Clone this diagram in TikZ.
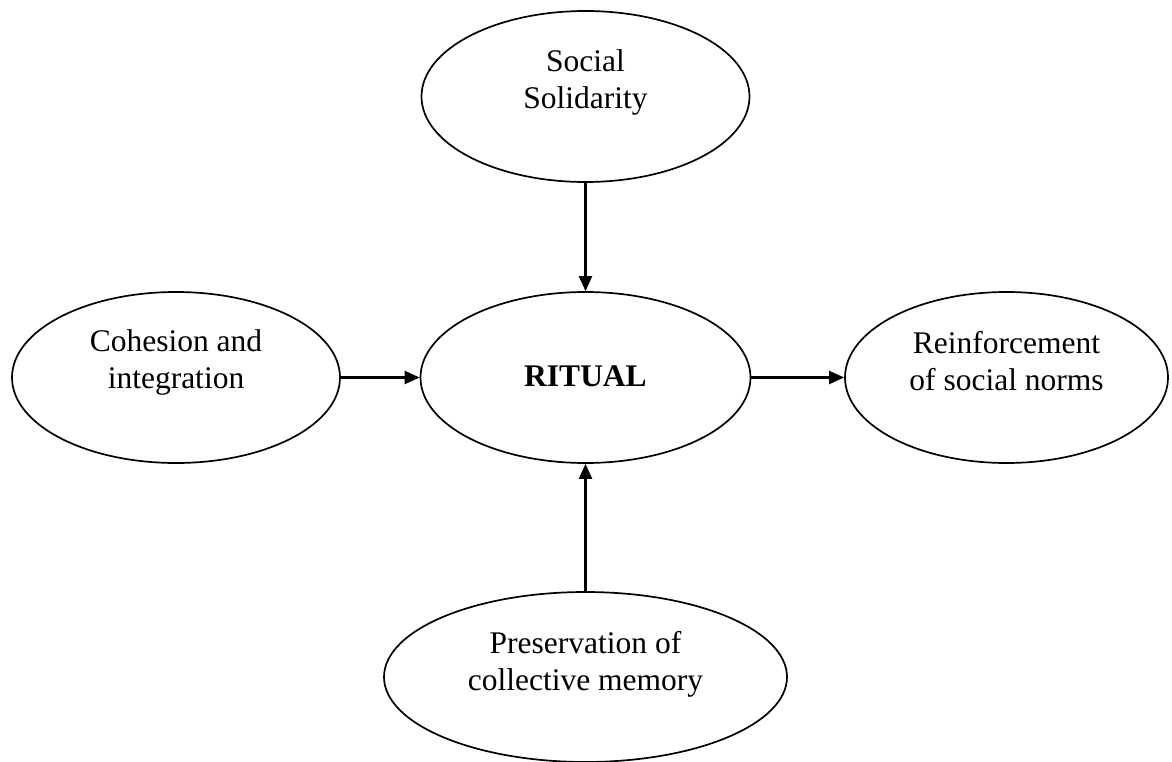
\documentclass[tikz,border=0pt]{standalone}
\usepackage{fontspec}
\setmainfont{Liberation Serif}
\usetikzlibrary{shapes.geometric,arrows.meta}
\begin{document}
\begin{tikzpicture}[x=1pt,y=-1pt,
  oval/.style={draw=black,line width=1.7pt,ellipse,inner sep=0pt},
  lbl/.style={align=center,inner sep=0pt,font=\fontsize{31.5}{37}\selectfont},
  conn/.style={draw=black,line width=2.1pt,-{Triangle[length=15pt,width=13pt]}}]
\useasboundingbox (0,0) rectangle (1172,762);
\fill[white] (0,0) rectangle (1172,762);
% ellipses
\node[oval,minimum width=328pt,minimum height=171pt] (top) at (585.5,96.5) {};
\node[oval,minimum width=330pt,minimum height=171pt] (ritual) at (585.5,377.5) {};
\node[oval,minimum width=328pt,minimum height=171pt] (left) at (176,377.5) {};
\node[oval,minimum width=323pt,minimum height=171pt] (right) at (1006.5,377.5) {};
\node[oval,minimum width=403pt,minimum height=170pt] (bottom) at (585.5,677) {};
% labels
\node[lbl] (ttop) at (585.5,82) {Social\\Solidarity};
\node[lbl,font=\fontsize{31.5}{37}\selectfont\bfseries] (tritual) at (585.5,376) {RITUAL};
\node[lbl] (tleft) at (176,362) {Cohesion and\\integration};
\node[lbl] (tright) at (1006.5,361) {Reinforcement\\of social norms};
\node[lbl] (tbottom) at (585.5,664) {Preservation of\\collective memory};
% connectors
\draw[conn] (top.south) -- (ritual.north);
\draw[conn] (left.east) -- (ritual.west);
\draw[conn] (ritual.east) -- (right.west);
\draw[conn] (bottom.north) -- (ritual.south);
\end{tikzpicture}
\end{document}
